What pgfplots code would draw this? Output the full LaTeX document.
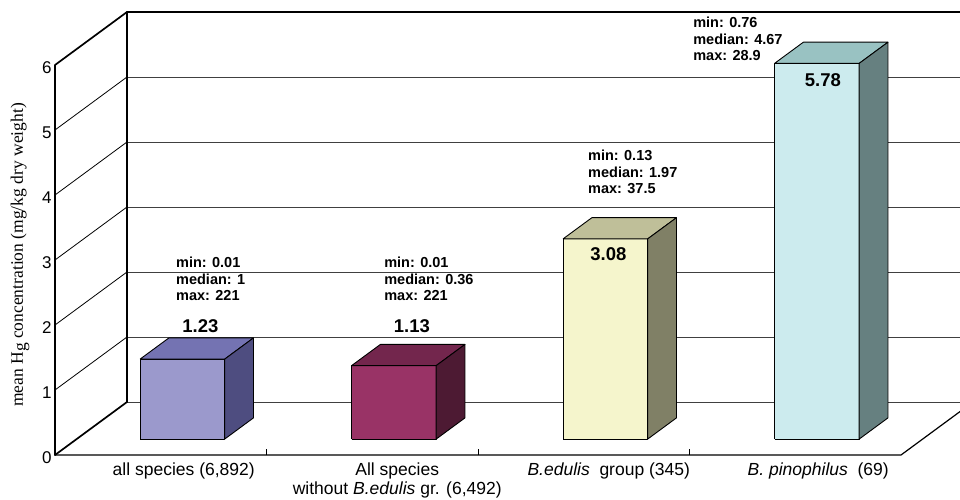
\documentclass[border=0pt]{standalone}
\usepackage{fontspec}
\setmainfont{Liberation Sans}
\newfontfamily\timesfont{Liberation Serif}
\usepackage{pgfplots}
\pgfplotsset{compat=1.18}

% face colours of the four columns: front, top, right side
\definecolor{aFront}{HTML}{9B99CC}\definecolor{aTop}{HTML}{7473B2}\definecolor{aSide}{HTML}{4E4D80}
\definecolor{bFront}{HTML}{993366}\definecolor{bTop}{HTML}{73264D}\definecolor{bSide}{HTML}{4D1A33}
\definecolor{cFront}{HTML}{F5F5CC}\definecolor{cTop}{HTML}{BFBF99}\definecolor{cSide}{HTML}{808066}
\definecolor{dFront}{HTML}{CCEBEE}\definecolor{dTop}{HTML}{99C2C2}\definecolor{dSide}{HTML}{668080}

\tikzset{
  face/.style={draw=black, line width=0.9pt, line join=round},
  frame/.style={draw=black, line width=1.7pt, line join=round, line cap=round},
  stats/.style={anchor=north west, inner sep=0pt, align=left,
                font=\bfseries\fontsize{14.5}{16.5}\selectfont},
  val/.style={anchor=base, inner sep=0pt, font=\bfseries\fontsize{18.5}{18.5}\selectfont},
  cat/.style={anchor=base, inner sep=0pt, font=\fontsize{17.5}{17.5}\selectfont},
}

\begin{document}
\begin{tikzpicture}
\begin{axis}[
  x={(211.5pt,0pt)}, y={(72pt,53pt)}, z={(0pt,65pt)},
  xmin=0, xmax=4, ymin=0, ymax=1, zmin=0, zmax=6,
  hide x axis, hide y axis,
  axis line style={draw=none},
  xtick=\empty, ytick=\empty, ztick={0,1,...,6},
  major tick length=0pt,
  ticklabel style={font=\fontsize{17}{17}\selectfont},
  /pgf/number format/assume math mode=true,
  clip=false,
]
% gridlines: diagonal on the side wall, horizontal on the back wall
\pgfplotsinvokeforeach{1,2,3,4,5}{
  \addplot3[black, line width=0.8pt] coordinates {(0,0,#1) (0,1,#1)};
  \addplot3[black!75, line width=0.9pt] coordinates {(0,1,#1) (4,1,#1)};
}
\addplot3[black!75, line width=0.9pt] coordinates {(0,1,0) (4,1,0)};

% outer frame of walls and floor
\addplot3[frame] coordinates {(0,0,0) (0,0,6) (0,1,6) (4,1,6)};
\addplot3[frame] coordinates {(0,1,6) (0,1,0)};
\addplot3[frame] coordinates {(0,0,0) (0,1,0)};
\addplot3[black, line width=1.2pt] coordinates {(0,0,0) (4,0,0) (4,1,0)};

% category separators on the floor edge
\pgfplotsinvokeforeach{1,2,3}{
  \addplot3[black, line width=0.8pt] coordinates {(#1,0,0) (#1,0,0.09)};
}

% column 1: all species, 1.23
\addplot3[face, fill=aFront] coordinates {(0.3,0.3,0) (0.7,0.3,0) (0.7,0.3,1.23) (0.3,0.3,1.23) (0.3,0.3,0)};
\addplot3[face, fill=aTop]   coordinates {(0.3,0.3,1.23) (0.7,0.3,1.23) (0.7,0.7,1.23) (0.3,0.7,1.23) (0.3,0.3,1.23)};
\addplot3[face, fill=aSide]  coordinates {(0.7,0.3,0) (0.7,0.7,0) (0.7,0.7,1.23) (0.7,0.3,1.23) (0.7,0.3,0)};

% column 2: all species without B. edulis group, 1.13
\addplot3[face, fill=bFront] coordinates {(1.3,0.3,0) (1.7,0.3,0) (1.7,0.3,1.13) (1.3,0.3,1.13) (1.3,0.3,0)};
\addplot3[face, fill=bTop]   coordinates {(1.3,0.3,1.13) (1.7,0.3,1.13) (1.7,0.7,1.13) (1.3,0.7,1.13) (1.3,0.3,1.13)};
\addplot3[face, fill=bSide]  coordinates {(1.7,0.3,0) (1.7,0.7,0) (1.7,0.7,1.13) (1.7,0.3,1.13) (1.7,0.3,0)};

% column 3: B. edulis group, 3.08
\addplot3[face, fill=cFront] coordinates {(2.3,0.3,0) (2.7,0.3,0) (2.7,0.3,3.08) (2.3,0.3,3.08) (2.3,0.3,0)};
\addplot3[face, fill=cTop]   coordinates {(2.3,0.3,3.08) (2.7,0.3,3.08) (2.7,0.7,3.08) (2.3,0.7,3.08) (2.3,0.3,3.08)};
\addplot3[face, fill=cSide]  coordinates {(2.7,0.3,0) (2.7,0.7,0) (2.7,0.7,3.08) (2.7,0.3,3.08) (2.7,0.3,0)};

% column 4: B. pinophilus, 5.78
\addplot3[face, fill=dFront] coordinates {(3.3,0.3,0) (3.7,0.3,0) (3.7,0.3,5.78) (3.3,0.3,5.78) (3.3,0.3,0)};
\addplot3[face, fill=dTop]   coordinates {(3.3,0.3,5.78) (3.7,0.3,5.78) (3.7,0.7,5.78) (3.3,0.7,5.78) (3.3,0.3,5.78)};
\addplot3[face, fill=dSide]  coordinates {(3.7,0.3,0) (3.7,0.7,0) (3.7,0.7,5.78) (3.7,0.3,5.78) (3.7,0.3,0)};

% mean values
\node[val, yshift=13pt]              at (axis cs:0.5,0.55,1.23) {1.23};
\node[val, yshift=19.4pt]            at (axis cs:1.5,0.55,1.13) {1.13};
\node[val, xshift=3pt, yshift=-22pt] at (axis cs:2.5,0.3,3.08)  {3.08};
\node[val, xshift=6pt, yshift=-23.6pt] at (axis cs:3.5,0.3,5.78) {5.78};

% range and median of each group
\node[stats] at (axis cs:0.572,0,3.046) {min: 0.01\\median: 1\\max: 221};
\node[stats] at (axis cs:1.556,0,3.046) {min: 0.01\\median: 0.36\\max: 221};
\node[stats] at (axis cs:2.520,0,4.688) {min: 0.13\\median: 1.97\\max: 37.5};
\node[stats] at (axis cs:3.017,0,6.738) {min: 0.76\\median: 4.67\\max: 28.9};

% category names with sample sizes
\node[cat, xshift=23pt, yshift=-20pt] at (axis cs:0.5,0,0) {all species (6,892)};
\node[cat, xshift=25pt, yshift=-20pt] at (axis cs:1.5,0,0) {All species};
\node[cat, xshift=25pt, yshift=-39pt] at (axis cs:1.5,0,0) {without \textit{B.edulis} gr. (6,492)};
\node[cat, xshift=25pt, yshift=-20pt] at (axis cs:2.5,0,0) {\textit{B.edulis}\ \ group (345)};
\node[cat, xshift=23pt, yshift=-20pt] at (axis cs:3.5,0,0) {\textit{B. pinophilus}\ \ (69)};

\coordinate (O) at (axis cs:0,0,0);
\end{axis}

\node[rotate=90, inner sep=0pt, font=\timesfont\fontsize{17.5}{17.5}\selectfont]
  at ([xshift=-35pt,yshift=200pt]O) {mean H\raisebox{-0.35ex}{g} concentration (mg/kg dry weight)};

\pgfresetboundingbox
\path[use as bounding box] ([xshift=-55pt,yshift=-45pt]O) rectangle ([xshift=905pt,yshift=455pt]O);
\end{tikzpicture}
\end{document}
